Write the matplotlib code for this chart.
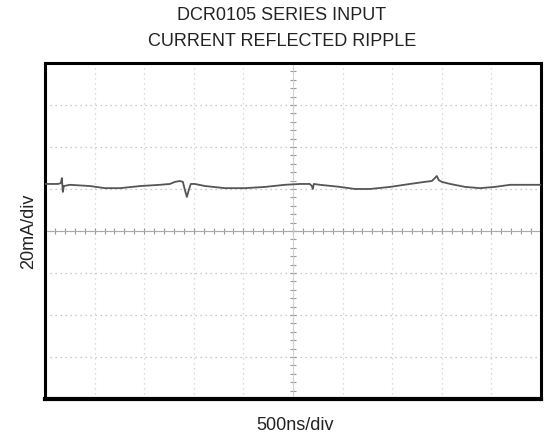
import numpy as np
import matplotlib
matplotlib.use("Agg")
import matplotlib.pyplot as plt

plt.rcParams['font.family'] = ['Liberation Sans', 'DejaVu Sans']

# trace, in divisions (500ns/div, 20mA/div)
t_div = [0.00, 0.26, 0.32, 0.34, 0.36, 0.38, 0.50, 0.91, 1.21, 1.51, 1.92, 2.32,
         2.52, 2.62, 2.72, 2.78, 2.82, 2.86, 2.90, 2.94, 3.02, 3.23, 3.63, 4.03,
         4.44, 4.84, 5.14, 5.34, 5.38, 5.40, 5.42, 5.54, 5.95, 6.25, 6.55, 6.96,
         7.36, 7.66, 7.80, 7.86, 7.90, 7.94, 8.00, 8.17, 8.47, 8.77, 9.07, 9.38,
         9.68, 10.00]
i_div = [1.12, 1.12, 1.14, 1.26, 0.93, 1.07, 1.10, 1.07, 1.02, 1.02, 1.07, 1.10,
         1.12, 1.17, 1.19, 1.17, 0.98, 0.81, 0.98, 1.12, 1.12, 1.07, 1.02, 1.02,
         1.05, 1.10, 1.12, 1.12, 1.07, 1.00, 1.12, 1.10, 1.05, 1.00, 1.00, 1.05,
         1.12, 1.17, 1.19, 1.26, 1.31, 1.21, 1.17, 1.12, 1.05, 1.02, 1.05, 1.10,
         1.10, 1.10]

title_lines = ["DCR0105 SERIES INPUT", "CURRENT REFLECTED RIPPLE"]
x_label = "500ns/div"
y_label = "20mA/div"

fig = plt.figure(figsize=(5.46, 4.36), dpi=100)
ax = fig.add_axes([0.0824, 0.0849, 0.9084, 0.7706])
ax.set_xlim(0, 10)
ax.set_ylim(-4, 4)

# graticule
for x in range(1, 10):
    ax.axvline(x, color='#cfcfcf', lw=0.9, ls=(0, (1, 3)), zorder=1)
for y in range(-3, 4):
    ax.axhline(y, color='#b8b8b8', lw=0.9, ls=(0, (1, 3)), zorder=1)
# center cross with small ticks
minor = np.arange(0, 10.01, 0.2)
ax.plot(minor, np.zeros_like(minor), '|', color='#999999', ms=4, mew=0.8, zorder=1)
minor_y = np.arange(-4, 4.01, 0.2)
ax.plot(np.full_like(minor_y, 5.0), minor_y, '_', color='#999999', ms=4, mew=0.8, zorder=1)
ax.axhline(0, color='#aaaaaa', lw=0.8, zorder=1)
ax.axvline(5, color='#cccccc', lw=0.6, zorder=1)

ax.plot(t_div, i_div, color='#555555', lw=1.3, zorder=3)

ax.set_xticks([])
ax.set_yticks([])
for s in ax.spines.values():
    s.set_linewidth(2.2)
    s.set_color('black')
ax.spines['bottom'].set_linewidth(3.0)

fig.text(0.516, 0.965, title_lines[0], ha='center', va='center', fontsize=13, color='#222222')
fig.text(0.516, 0.905, title_lines[1], ha='center', va='center', fontsize=13, color='#222222')
fig.text(0.540, 0.025, x_label, ha='center', va='center', fontsize=13, color='#222222')
fig.text(0.052, 0.47, y_label, ha='center', va='center', rotation=90, fontsize=13, color='#222222')

fig.savefig("out.png", dpi=100)
